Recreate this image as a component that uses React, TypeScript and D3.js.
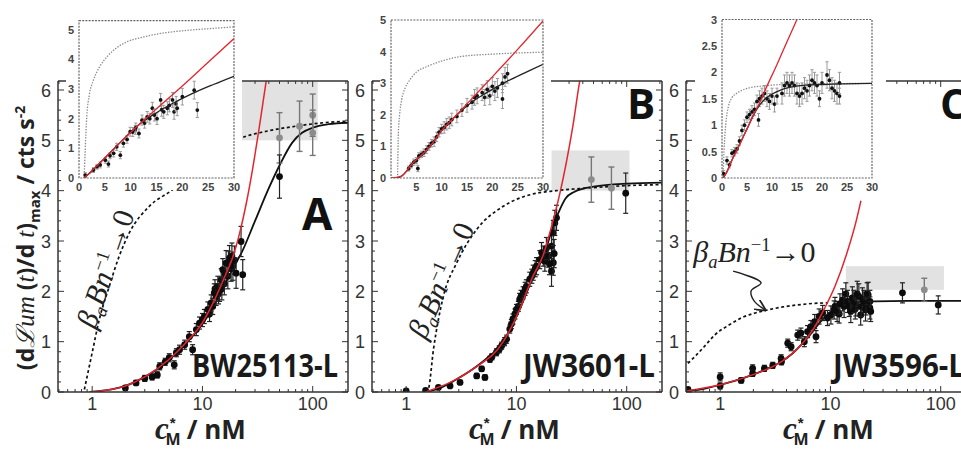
import React, { useLayoutEffect, useRef, useState } from "react";
import * as d3 from "d3";

type Pt = [number, number];
type EPt = [number, number, number];

// ---------- tick values ----------
const MAIN_X_TICKS = [1, 10, 100];
const MAIN_Y_TICKS = [0, 1, 2, 3, 4, 5, 6];
const INSET_X_TICKS_A = [0, 5, 10, 15, 20, 25, 30];
const INSET_X_TICKS_B = [5, 10, 15, 20, 25, 30];
const INSET_X_TICKS_C = [0, 5, 10, 15, 20, 25, 30];
const INSET_Y_TICKS_A = [0, 1, 2, 3, 4, 5];
const INSET_Y_TICKS_B = [0, 1, 2, 3, 4, 5];
const INSET_Y_TICKS_C = [0, 0.5, 1, 1.5, 2, 2.5, 3];

const PANEL_LETTERS = ["A", "B", "C"];
const STRAIN_LABELS = ["BW25113-L", "JW3601-L", "JW3596-L"];

// ---------- panel A ----------
const A_MAIN_BLACK: Pt[] = [[0.95,0],[1.5,0.05],[2,0.12],[3,0.3],[4,0.47],[5,0.64],[7,0.95],[10,1.35],[13,1.75],[16,2.15],[20,2.55],[23,2.8],[30,3.4],[40,4.05],[50,4.5],[65,4.95],[80,5.15],[100,5.25],[140,5.32],[210,5.35]];
const A_MAIN_RED: Pt[] = [[0.95,0],[2,0.12],[3,0.3],[5,0.65],[7,0.97],[10,1.38],[13,1.85],[16,2.3],[19,2.7],[22,3.2],[25,3.75],[28.6,4.45],[33,5.3],[38,6.2],[40,6.5]];
const A_MAIN_DOTTED: Pt[] = [[0.85,0.05],[1.0,0.78],[1.16,1.44],[1.43,2.1],[1.76,2.7],[2.17,3.16],[3.3,3.69],[5.37,4.02],[8,4.35],[12,4.65],[21.7,5.03],[38,5.18],[70,5.28],[142,5.36],[210,5.38]];
const A_BOX_X = [21.7, 111];
const A_BOX_Y = [5.0, 6.2];
const A_MAIN_PTS: EPt[] = [[2,0.08,0.05],[2.5,0.18,0.05],[3,0.27,0.06],[3.5,0.3,0.06],[3.9,0.34,0.06],[4.1,0.51,0.07],[4.6,0.6,0.07],[5,0.68,0.08],[5.55,0.54,0.08],[5.8,0.78,0.08],[6.2,0.84,0.09],[6.9,0.94,0.09],[7.6,1.1,0.1],[8.15,0.84,0.1],[8.8,1.24,0.12],[9.4,1.37,0.12],[10,1.43,0.13],[10.4,1.5,0.14],[11.2,1.64,0.15],[11.6,1.55,0.15],[12,1.77,0.16],[12.4,1.7,0.16],[12.8,1.97,0.18],[13,2.05,0.18],[13.3,1.9,0.18],[13.8,2.1,0.2],[14,1.95,0.2],[14.3,2.0,0.2],[14.8,2.23,0.22],[15,2.05,0.22],[15.3,2.43,0.22],[15.8,2.15,0.22],[16,2.35,0.24],[16.4,2.56,0.25],[17,2.3,0.25],[17.2,2.55,0.25],[17.6,2.66,0.25],[18.2,2.45,0.25],[18.5,2.7,0.26],[18.9,2.5,0.28],[19.5,2.62,0.28],[20.2,2.36,0.3],[22.4,2.99,0.3],[23.2,2.33,0.3],[50,4.28,0.43]];
const A_MAIN_GRAY: EPt[] = [[50,5.05,0.5],[76,5.28,0.5],[100,5.5,0.42],[100,5.15,0.45]];
const A_INSET_BLACK: Pt[] = [[1,0],[2,0.15],[4,0.5],[6,0.85],[8,1.2],[10,1.55],[12,1.85],[15,2.2],[18,2.5],[22,2.85],[26,3.15],[30,3.43]];
const A_INSET_RED: Pt[] = [[1,0],[4,0.5],[8,1.2],[11,1.7],[15,2.33],[20,3.1],[25,3.9],[30,4.7]];
const A_INSET_DOTTED: Pt[] = [[1,0],[1.2,0.95],[1.5,2.06],[2,2.8],[2.8,3.3],[4,3.75],[5.4,4.08],[7,4.35],[9.3,4.59],[12,4.73],[15.8,4.87],[20,4.96],[25,5.03],[30,5.09]];
const A_INSET_PTS: EPt[] = [[1.2,0.1,0.08],[2.8,0.27,0.08],[3.5,0.38,0.08],[4.1,0.44,0.1],[5.1,0.6,0.1],[5.7,0.47,0.1],[6,0.75,0.1],[6.7,0.83,0.12],[7.3,1.05,0.12],[8,0.77,0.12],[8.6,1.17,0.13],[9.3,1.3,0.13],[9.9,1.56,0.15],[10.4,1.55,0.15],[10.9,1.62,0.15],[11,1.7,0.15],[11.6,1.5,0.15],[12.2,1.95,0.17],[12.7,1.85,0.17],[13.2,2.06,0.18],[13.7,2.0,0.18],[14.2,2.35,0.2],[14.6,2.12,0.2],[15.1,2.0,0.2],[15.8,2.63,0.22],[16,2.3,0.22],[16.4,2.23,0.22],[17.1,2.35,0.22],[17.5,2.45,0.22],[18.1,2.63,0.25],[18.4,2.23,0.25],[18.8,2.5,0.25],[19,2.35,0.25],[20,2.74,0.28],[22.3,2.96,0.3],[22.9,2.29,0.25]];

// ---------- panel B ----------
const B_MAIN_BLACK: Pt[] = [[1.5,0],[2,0.07],[2.7,0.22],[4,0.45],[5.4,0.67],[7.6,1.0],[9,1.3],[10.7,1.64],[12.5,2.0],[14.1,2.3],[17.5,2.68],[21.6,3.3],[24.8,3.63],[28,3.85],[33,3.97],[50,4.08],[100,4.14],[210,4.16]];
const B_MAIN_RED: Pt[] = [[1.5,0],[4,0.45],[7.6,1.0],[10.7,1.64],[14.1,2.3],[17.5,2.72],[20,3.15],[24.8,3.95],[28,4.5],[32.6,5.3],[37,6.1],[38,6.25]];
const B_MAIN_DOTTED: Pt[] = [[1.5,0],[1.59,0.06],[1.77,0.85],[2.18,1.91],[2.88,2.57],[4.36,3.23],[7.6,3.69],[13.3,3.92],[23,4.0],[43,4.05],[100,4.1],[210,4.12]];
const B_BOX_X = [20.8, 106];
const B_BOX_Y = [4.0, 4.8];
const B_MAIN_PTS: EPt[] = [[1,0.02,0],[1.5,0.03,0],[1.96,0.09,0.03],[2.5,0.12,0.03],[3.08,0.19,0.04],[4.36,0.32,0.05],[4.84,0.46,0.05],[5.18,0.29,0.05],[5.75,0.65,0.06],[6,0.7,0.06],[6.6,0.79,0.07],[7,0.85,0.07],[7.35,0.92,0.07],[7.8,1.0,0.08],[8.15,1.05,0.08],[8.7,1.25,0.08],[9,1.35,0.09],[9.3,1.45,0.1],[9.7,1.55,0.1],[10,1.64,0.1],[10.4,1.7,0.1],[10.7,1.84,0.12],[11,1.9,0.12],[11.5,1.97,0.12],[12,2.05,0.13],[12.3,2.1,0.13],[13.2,2.24,0.14],[13.8,2.3,0.14],[14.2,2.37,0.15],[14.8,2.45,0.16],[15.2,2.5,0.17],[16.3,2.63,0.18],[16.9,2.77,0.2],[17.5,2.7,0.2],[18.1,2.6,0.2],[18.7,2.85,0.22],[19.4,2.7,0.22],[19.9,2.55,0.22],[20.8,2.9,0.25],[20.8,2.4,0.3],[21.6,3.16,0.25],[21.6,2.57,0.25],[22,2.75,0.28],[22.3,3.36,0.25],[23.1,3.46,0.25],[98,3.95,0.4]];
const B_MAIN_GRAY: EPt[] = [[47.8,4.22,0.45],[72.7,4.05,0.42]];
const B_INSET_BLACK: Pt[] = [[0,0],[1,0],[2,0.05],[3,0.2],[4,0.42],[5.7,0.67],[7.7,1.0],[9.7,1.45],[12.3,1.89],[15.6,2.36],[18.9,2.7],[22.8,3.05],[26.8,3.36],[30,3.6]];
const B_INSET_RED: Pt[] = [[0,0],[2,0.05],[4,0.42],[7.7,1.0],[10,1.5],[13,2.0],[15.6,2.45],[20,3.2],[25,4.07],[30,4.97]];
const B_INSET_DOTTED: Pt[] = [[1.3,0],[1.45,1.4],[1.7,2.0],[2.1,2.47],[2.8,2.85],[3.7,3.1],[5,3.35],[7,3.52],[10,3.7],[13.6,3.84],[20,3.92],[30,3.98]];
const B_INSET_PTS: EPt[] = [[3.5,0.3,0.08],[4,0.4,0.08],[4.5,0.5,0.1],[5,0.55,0.1],[5.3,0.3,0.1],[5.5,0.7,0.1],[6,0.75,0.1],[6.5,0.8,0.12],[7,0.9,0.12],[7.5,1.0,0.12],[8,1.1,0.12],[8.5,1.15,0.15],[9,1.3,0.15],[9.5,1.45,0.15],[10,1.55,0.15],[10.5,1.6,0.18],[11,1.7,0.18],[11.5,1.75,0.18],[12,1.85,0.2],[13,1.95,0.2],[14,2.15,0.2],[15,2.3,0.22],[16,2.4,0.22],[16.5,2.55,0.25],[17,2.6,0.25],[18,2.7,0.25],[18.5,2.55,0.25],[19,2.8,0.28],[19.5,2.6,0.28],[20,2.9,0.28],[20.5,2.75,0.3],[21,2.85,0.3],[22,3.0,0.3],[22,2.5,0.3],[22.5,3.2,0.3],[23,3.3,0.3]];

// ---------- panel C ----------
const C_MAIN_BLACK: Pt[] = [[0.49,0.02],[0.67,0.05],[1.02,0.15],[1.5,0.25],[1.9,0.33],[2.6,0.45],[3.57,0.6],[4.5,0.76],[5.4,0.93],[6.5,1.13],[7.66,1.33],[9,1.5],[10.1,1.6],[12,1.7],[15.3,1.77],[24.9,1.8],[50,1.81],[210,1.81]];
const C_MAIN_RED: Pt[] = [[0.49,0.02],[1.02,0.15],[1.9,0.33],[3.57,0.6],[5.4,0.93],[7,1.25],[8.8,1.65],[11,2.1],[14.3,2.8],[17,3.37],[18.9,3.8]];
const C_MAIN_DOTTED: Pt[] = [[0.51,0.57],[0.6,0.72],[0.75,0.95],[0.89,1.13],[1.2,1.33],[1.55,1.47],[2,1.56],[2.7,1.63],[3.7,1.69],[5.05,1.73],[7,1.76],[9.5,1.77]];
const C_BOX_X = [13.8, 107];
const C_BOX_Y = [2.03, 2.5];
const C_MAIN_PTS: EPt[] = [[0.51,0.05,0.04],[1,0.3,0.08],[1,0.12,0.06],[1.55,0.23,0.05],[1.97,0.47,0.07],[1.97,0.37,0.06],[2.52,0.47,0.06],[3,0.53,0.06],[3.57,0.67,0.07],[3.6,0.6,0.06],[4.1,0.97,0.08],[4.4,0.9,0.08],[5.05,1.13,0.1],[5.4,1.17,0.1],[5.8,1.0,0.1],[6.2,1.2,0.12],[6.65,1.3,0.12],[7.2,1.4,0.14],[7.4,1.1,0.12],[7.9,1.5,0.15],[8.5,1.57,0.15],[9.4,1.47,0.15],[10.1,1.53,0.18],[10.8,1.63,0.18],[11,1.7,0.18],[11.5,1.6,0.2],[12,1.55,0.18],[12.2,1.75,0.2],[12.9,1.83,0.22],[13.3,1.7,0.22],[13.8,1.95,0.22],[14.3,1.8,0.22],[14.8,1.7,0.2],[15.3,1.6,0.22],[15.8,1.87,0.22],[16.3,1.8,0.22],[16.8,1.65,0.2],[17,1.73,0.22],[17.5,1.95,0.25],[18.1,1.9,0.25],[18.8,1.53,0.2],[19,1.7,0.2],[19.5,1.85,0.22],[20.1,1.8,0.22],[20.8,1.63,0.22],[21,1.75,0.22],[21.5,1.95,0.22],[22,1.93,0.25],[22.8,1.67,0.22],[22.8,1.8,0.22],[23.2,1.6,0.2],[45,1.97,0.2],[95,1.73,0.18]];
const C_MAIN_GRAY: EPt[] = [[71,2.03,0.23]];
const C_INSET_BLACK: Pt[] = [[0.2,0],[1,0.12],[2,0.34],[3.6,0.65],[5,0.93],[6.3,1.19],[7.3,1.35],[8.3,1.47],[9.5,1.56],[10.9,1.63],[12.5,1.69],[14.9,1.74],[20.3,1.77],[30,1.79]];
const C_INSET_RED: Pt[] = [[0.2,0],[1,0.12],[2,0.34],[3.6,0.65],[5,0.93],[6.3,1.19],[7.5,1.42],[8.9,1.72],[11,2.15],[13,2.58],[15,3.0]];
const C_INSET_DOTTED: Pt[] = [[0.2,0],[0.4,0.5],[0.6,0.84],[0.9,1.15],[1.27,1.35],[2,1.52],[2.9,1.6],[4,1.66],[5.6,1.71],[8,1.74],[10.3,1.76],[15,1.78],[30,1.79]];
const C_INSET_PTS: EPt[] = [[0.3,0.08,0.06],[1,0.33,0.07],[1.5,0.25,0.06],[2,0.47,0.07],[2.5,0.5,0.08],[3,0.55,0.08],[3.5,0.7,0.08],[4,0.9,0.1],[4.5,1.0,0.1],[5,1.15,0.1],[5.5,1.2,0.1],[6,1.25,0.12],[6.5,1.3,0.12],[7,1.45,0.12],[7.3,1.1,0.12],[7.5,1.5,0.15],[8,1.55,0.15],[8.5,1.6,0.15],[9,1.5,0.15],[9.5,1.45,0.15],[10,1.55,0.15],[10.5,1.4,0.15],[11,1.55,0.15],[12,1.6,0.2],[12.5,1.75,0.2],[13,1.8,0.2],[13.5,1.75,0.2],[14,1.8,0.2],[14.5,1.75,0.2],[15,1.6,0.2],[15.5,1.55,0.2],[16,1.6,0.2],[16.5,1.7,0.2],[17,1.65,0.2],[17.5,1.75,0.2],[18,1.85,0.2],[18.5,1.8,0.2],[19,1.75,0.2],[19.5,1.5,0.15],[20,1.8,0.2],[21,1.95,0.25],[21.5,1.85,0.2],[22,1.7,0.2],[22.5,1.65,0.2],[23,1.6,0.2],[23.5,1.55,0.15],[23.5,1.8,0.2]];
const C_ARROW: Pt[] = [[1.31,2.40],[2.35,2.17],[1.91,2.01],[2.03,1.81],[2.56,1.63]];

// ---------- layout ----------
const X_DOMAIN = [0.49, 209];
const Y_DOMAIN = [0, 6];
const Y_TOP = 6.18;
const PANEL_W = 290;
const Y0 = 392;
const Y6 = 90;
const RED = "#e3262d";
const SANS = "'Liberation Sans', Arial, sans-serif";
const BOLD = "'Open Sans', 'Liberation Sans', sans-serif";
const SERIF = "'Liberation Serif', 'DejaVu Serif', serif";

const PANELS = [
  {
    left: 58, black: A_MAIN_BLACK, red: A_MAIN_RED, dotted: A_MAIN_DOTTED, boxX: A_BOX_X, boxY: A_BOX_Y,
    pts: A_MAIN_PTS, gray: A_MAIN_GRAY, rightFrame: true,
    letter: { x: 302, y: 230, size: 44 }, strain: { x: 192, w: 146 },
    ann: { x: 1.06, y: 1.23, rot: -71, size: 30 },
    inset: { l: 79, r: 234, t: 20.7, b: 178, ymax: 5.3, xt: INSET_X_TICKS_A, yt: INSET_Y_TICKS_A, bgL: 66, bgR: 242,
      black: A_INSET_BLACK, red: A_INSET_RED, dotted: A_INSET_DOTTED, pts: A_INSET_PTS },
  },
  {
    left: 372, black: B_MAIN_BLACK, red: B_MAIN_RED, dotted: B_MAIN_DOTTED, boxX: B_BOX_X, boxY: B_BOX_Y,
    pts: B_MAIN_PTS, gray: B_MAIN_GRAY, rightFrame: true,
    letter: { x: 627, y: 119, size: 42 }, strain: { x: 523, w: 132 },
    ann: { x: 1.49, y: 1.03, rot: -66, size: 30 },
    inset: { l: 391, r: 543, t: 20, b: 178, ymax: 5, xt: INSET_X_TICKS_B, yt: INSET_Y_TICKS_B, bgL: 380, bgR: 551,
      black: B_INSET_BLACK, red: B_INSET_RED, dotted: B_INSET_DOTTED, pts: B_INSET_PTS },
  },
  {
    left: 686, black: C_MAIN_BLACK, red: C_MAIN_RED, dotted: C_MAIN_DOTTED, boxX: C_BOX_X, boxY: C_BOX_Y,
    pts: C_MAIN_PTS, gray: C_MAIN_GRAY, rightFrame: true,
    letter: { x: 940, y: 119, size: 42 }, strain: { x: 833, w: 132 },
    ann: { x: 0.57, y: 2.58, rot: 0, size: 30 },
    inset: { l: 722, r: 872, t: 19.5, b: 178, ymax: 3, xt: INSET_X_TICKS_C, yt: INSET_Y_TICKS_C, bgL: 695, bgR: 886,
      black: C_INSET_BLACK, red: C_INSET_RED, dotted: C_INSET_DOTTED, pts: C_INSET_PTS },
  },
];

function logMinor(domain: number[]) {
  const out: number[] = [];
  for (let e = -1; e <= 3; e++)
    for (let k = 1; k <= 9; k++) {
      const v = k * Math.pow(10, e);
      if (v >= domain[0] && v <= domain[1]) out.push(v);
    }
  return out;
}

function ErrPoints({ pts, x, y, bar, fill, r, cap, sw }: any) {
  return (
    <g>
      {pts.map((p: EPt, i: number) => {
        const cx = x(p[0]);
        const cy = y(p[1]);
        const y1 = y(p[1] - p[2]);
        const y2 = y(p[1] + p[2]);
        return (
          <g key={i}>
            {p[2] > 0 && (
              <g stroke={bar} strokeWidth={sw}>
                <line x1={cx} x2={cx} y1={y1} y2={y2} />
                <line x1={cx - cap} x2={cx + cap} y1={y1} y2={y1} />
                <line x1={cx - cap} x2={cx + cap} y1={y2} y2={y2} />
              </g>
            )}
            <circle cx={cx} cy={cy} r={r} fill={fill} />
          </g>
        );
      })}
    </g>
  );
}

function BetaText({ size }: { size: number }) {
  const sub = size * 0.62;
  return (
    <>
      <tspan fontStyle="italic">β</tspan>
      <tspan fontStyle="italic" fontSize={sub} dy={size * 0.18}>a</tspan>
      <tspan fontStyle="italic" dy={-size * 0.18}>B</tspan>
      <tspan fontStyle="italic">n</tspan>
      <tspan fontSize={sub} dy={-size * 0.36}>−1</tspan>
      <tspan dy={size * 0.36}>→0</tspan>
    </>
  );
}

// Strain label: natural-width text scaled horizontally to the target width
function StrainLabel({ x, w, text }: any) {
  const ref = useRef<SVGTextElement>(null);
  const [sx, setSx] = useState(0.84);
  useLayoutEffect(() => {
    if (ref.current) {
      const n = ref.current.getComputedTextLength();
      if (n > 0) setSx(w / n);
    }
  }, [w, text]);
  return (
    <text ref={ref} transform={`translate(${x},377) scale(${sx},1)`} fontFamily={BOLD} fontWeight="bold" fontSize={33} fill="#1a1a1a">{text}</text>
  );
}

function Inset({ cfg, id }: any) {
  const x = d3.scaleLinear().domain([0, 30]).range([cfg.l, cfg.r]);
  const y = d3.scaleLinear().domain([0, cfg.ymax]).range([cfg.b, cfg.t]);
  const line = d3.line<Pt>().x((d) => x(d[0])).y((d) => y(d[1])).curve(d3.curveMonotoneX);
  const clip = `inclip${id}`;
  return (
    <g>
      <rect x={cfg.bgL} y={cfg.t - 8} width={cfg.bgR - cfg.bgL} height={cfg.b + 12 - (cfg.t - 8)} fill="#fff" />
      <clipPath id={clip}>
        <rect x={cfg.l} y={cfg.t} width={cfg.r - cfg.l} height={cfg.b - cfg.t} />
      </clipPath>
      <g clipPath={`url(#${clip})`}>
        <path d={line(cfg.dotted) || ""} fill="none" stroke="#8a8a8a" strokeWidth={1.3} strokeDasharray="1.4 1.4" />
        <ErrPoints pts={cfg.pts} x={x} y={y} bar="#9a9a9a" fill="#111" r={1.9} cap={1.6} sw={1} />
        <path d={line(cfg.black) || ""} fill="none" stroke="#222" strokeWidth={1.3} />
        <path d={line(cfg.red) || ""} fill="none" stroke={RED} strokeWidth={1.3} />
      </g>
      <rect x={cfg.l} y={cfg.t} width={cfg.r - cfg.l} height={cfg.b - cfg.t} fill="none" stroke="#666" strokeWidth={1.2} strokeDasharray="2 1.2" />
      {cfg.xt.map((t: number) => (
        <text key={"x" + t} x={x(t)} y={cfg.b + 13} textAnchor="middle" fontFamily={SANS} fontWeight="bold" fontSize={11} fill="#444">{t}</text>
      ))}
      {cfg.yt.map((t: number) => (
        <text key={"y" + t} x={cfg.l - 5} y={y(t) + 4} textAnchor="end" fontFamily={SANS} fontWeight="bold" fontSize={11} fill="#444">{t}</text>
      ))}
    </g>
  );
}

function Panel({ cfg, idx }: any) {
  const x = d3.scaleLog().domain(X_DOMAIN).range([cfg.left, cfg.left + PANEL_W]);
  const y = d3.scaleLinear().domain(Y_DOMAIN).range([Y0, Y6]);
  const top = y(Y_TOP);
  const right = cfg.left + PANEL_W;
  const line = d3.line<Pt>().x((d) => x(d[0])).y((d) => y(d[1])).curve(d3.curveMonotoneX);
  const clip = `mainclip${idx}`;
  const minorX = logMinor(X_DOMAIN);
  const minorY = d3.range(0, Y_TOP, 0.2);
  const cx = cfg.left + PANEL_W / 2;
  const arrowLine = d3.line<Pt>().x((d) => x(d[0])).y((d) => y(d[1])).curve(d3.curveCatmullRom.alpha(0.5));
  const annX = x(cfg.ann.x);
  const annY = y(cfg.ann.y);
  return (
    <g>
      <clipPath id={clip}>
        <rect x={cfg.left} y={top} width={PANEL_W} height={Y0 - top} />
      </clipPath>
      <g clipPath={`url(#${clip})`}>
        <rect x={x(cfg.boxX[0])} y={y(cfg.boxY[1])} width={x(cfg.boxX[1]) - x(cfg.boxX[0])} height={y(cfg.boxY[0]) - y(cfg.boxY[1])} fill="#e2e2e2" />
        <path d={line(cfg.dotted) || ""} fill="none" stroke="#111" strokeWidth={1.7} strokeDasharray="3 2.6" />
        <path d={line(cfg.black) || ""} fill="none" stroke="#111" strokeWidth={1.8} />
        <ErrPoints pts={cfg.gray} x={x} y={y} bar="#777" fill="#8c8c8c" r={3.4} cap={3} sw={1.4} />
        <ErrPoints pts={cfg.pts} x={x} y={y} bar="#222" fill="#0c0c0c" r={3.4} cap={2.5} sw={1.2} />
        <path d={line(cfg.red) || ""} fill="none" stroke={RED} strokeWidth={1.5} />
      </g>
      {/* frame */}
      <g stroke="#333" strokeWidth={1.5} fill="none">
        <line x1={cfg.left} x2={right} y1={Y0} y2={Y0} />
        <line x1={cfg.left} x2={right} y1={top} y2={top} />
        <line x1={cfg.left} x2={cfg.left} y1={top} y2={Y0} />
        {cfg.rightFrame && <line x1={right} x2={right} y1={top} y2={Y0} />}
      </g>
      <g stroke="#333" strokeWidth={1}>
        {minorX.map((v, i) => {
          const major = MAIN_X_TICKS.includes(v);
          const len = major ? 6 : 3;
          return (
            <g key={i}>
              <line x1={x(v)} x2={x(v)} y1={Y0} y2={Y0 - len} />
              <line x1={x(v)} x2={x(v)} y1={top} y2={top + len} />
            </g>
          );
        })}
        {minorY.map((v, i) => {
          const major = Math.abs(v - Math.round(v)) < 1e-6;
          const len = major ? 6 : 3;
          return (
            <g key={i}>
              <line x1={cfg.left} x2={cfg.left + len} y1={y(v)} y2={y(v)} />
              <line x1={right} x2={right - len} y1={y(v)} y2={y(v)} />
            </g>
          );
        })}
      </g>
      {/* tick labels */}
      {MAIN_X_TICKS.map((t) => (
        <text key={t} x={x(t)} y={Y0 + 18} textAnchor="middle" fontFamily={SANS} fontSize={18} fill="#333">{t}</text>
      ))}
      {MAIN_Y_TICKS.map((t) => (
        <text key={t} x={cfg.left - 7} y={y(t) + 6.5} textAnchor="end" fontFamily={SANS} fontSize={18} fill="#333">{t}</text>
      ))}
      {/* x axis title: c*_M / nM as one text */}
      <text x={cx - 48} y={439} fill="#222" fontFamily={BOLD} fontWeight="bold" fontSize={26}>
        <tspan fontFamily={SERIF} fontStyle="italic" fontSize={31}>c</tspan>
        <tspan fontFamily={SANS} fontSize={15} dx={1} dy={-11}>*</tspan>
        <tspan fontSize={16} dx={-10} dy={17}>M</tspan>
        <tspan dx={6} dy={-6}>/ nM</tspan>
      </text>
      {/* strain + letter */}
      <StrainLabel x={cfg.strain.x} w={cfg.strain.w} text={STRAIN_LABELS[idx]} />
      <text x={cfg.letter.x} y={cfg.letter.y} fontFamily={BOLD} fontWeight="bold" fontSize={cfg.letter.size} fill="#111">{PANEL_LETTERS[idx]}</text>
      {/* annotation */}
      <text transform={`translate(${annX},${annY}) rotate(${cfg.ann.rot})`} fontFamily={SERIF} fontSize={cfg.ann.size} fill="#222"><BetaText size={cfg.ann.size} /></text>
      {idx === 2 && (
        <path d={arrowLine(C_ARROW) || ""} fill="none" stroke="#222" strokeWidth={1.4} markerEnd="url(#arrowhead)" />
      )}
      <Inset cfg={cfg.inset} id={idx} />
    </g>
  );
}

export default function App() {
  return (
    <svg width={961} height={449} viewBox="0 0 961 449" style={{ position: "absolute", left: 0, top: 0, background: "#fff" }}>
      <defs>
        <marker id="arrowhead" viewBox="0 0 10 10" refX="9" refY="5" markerWidth="8" markerHeight="8" orient="auto">
          <path d="M0,0 L10,5 L0,10" fill="none" stroke="#222" strokeWidth={1.6} />
        </marker>
      </defs>
      <rect x={0} y={0} width={961} height={449} fill="#fff" />
      {PANELS.map((p, i) => (
        <Panel key={i} cfg={p} idx={i} />
      ))}
      {/* y axis title */}
      <text transform="translate(34,238) rotate(-90)" textAnchor="middle" fontFamily={BOLD} fontWeight="bold" fontSize={23} fill="#222">
        <tspan>(d</tspan>
        <tspan fontFamily={SERIF} fontStyle="italic" fontWeight="normal" fontSize={25}>ℒum</tspan>
        <tspan> (</tspan>
        <tspan fontFamily={SERIF} fontStyle="italic" fontWeight="normal" fontSize={25}>t</tspan>
        <tspan>)/d </tspan>
        <tspan fontFamily={SERIF} fontStyle="italic" fontWeight="normal" fontSize={25}>t</tspan>
        <tspan>)</tspan>
        <tspan fontSize={15} dy={6}>max</tspan>
        <tspan dy={-6}> / cts s</tspan>
        <tspan fontSize={14} dy={-9}>-2</tspan>
      </text>
    </svg>
  );
}
